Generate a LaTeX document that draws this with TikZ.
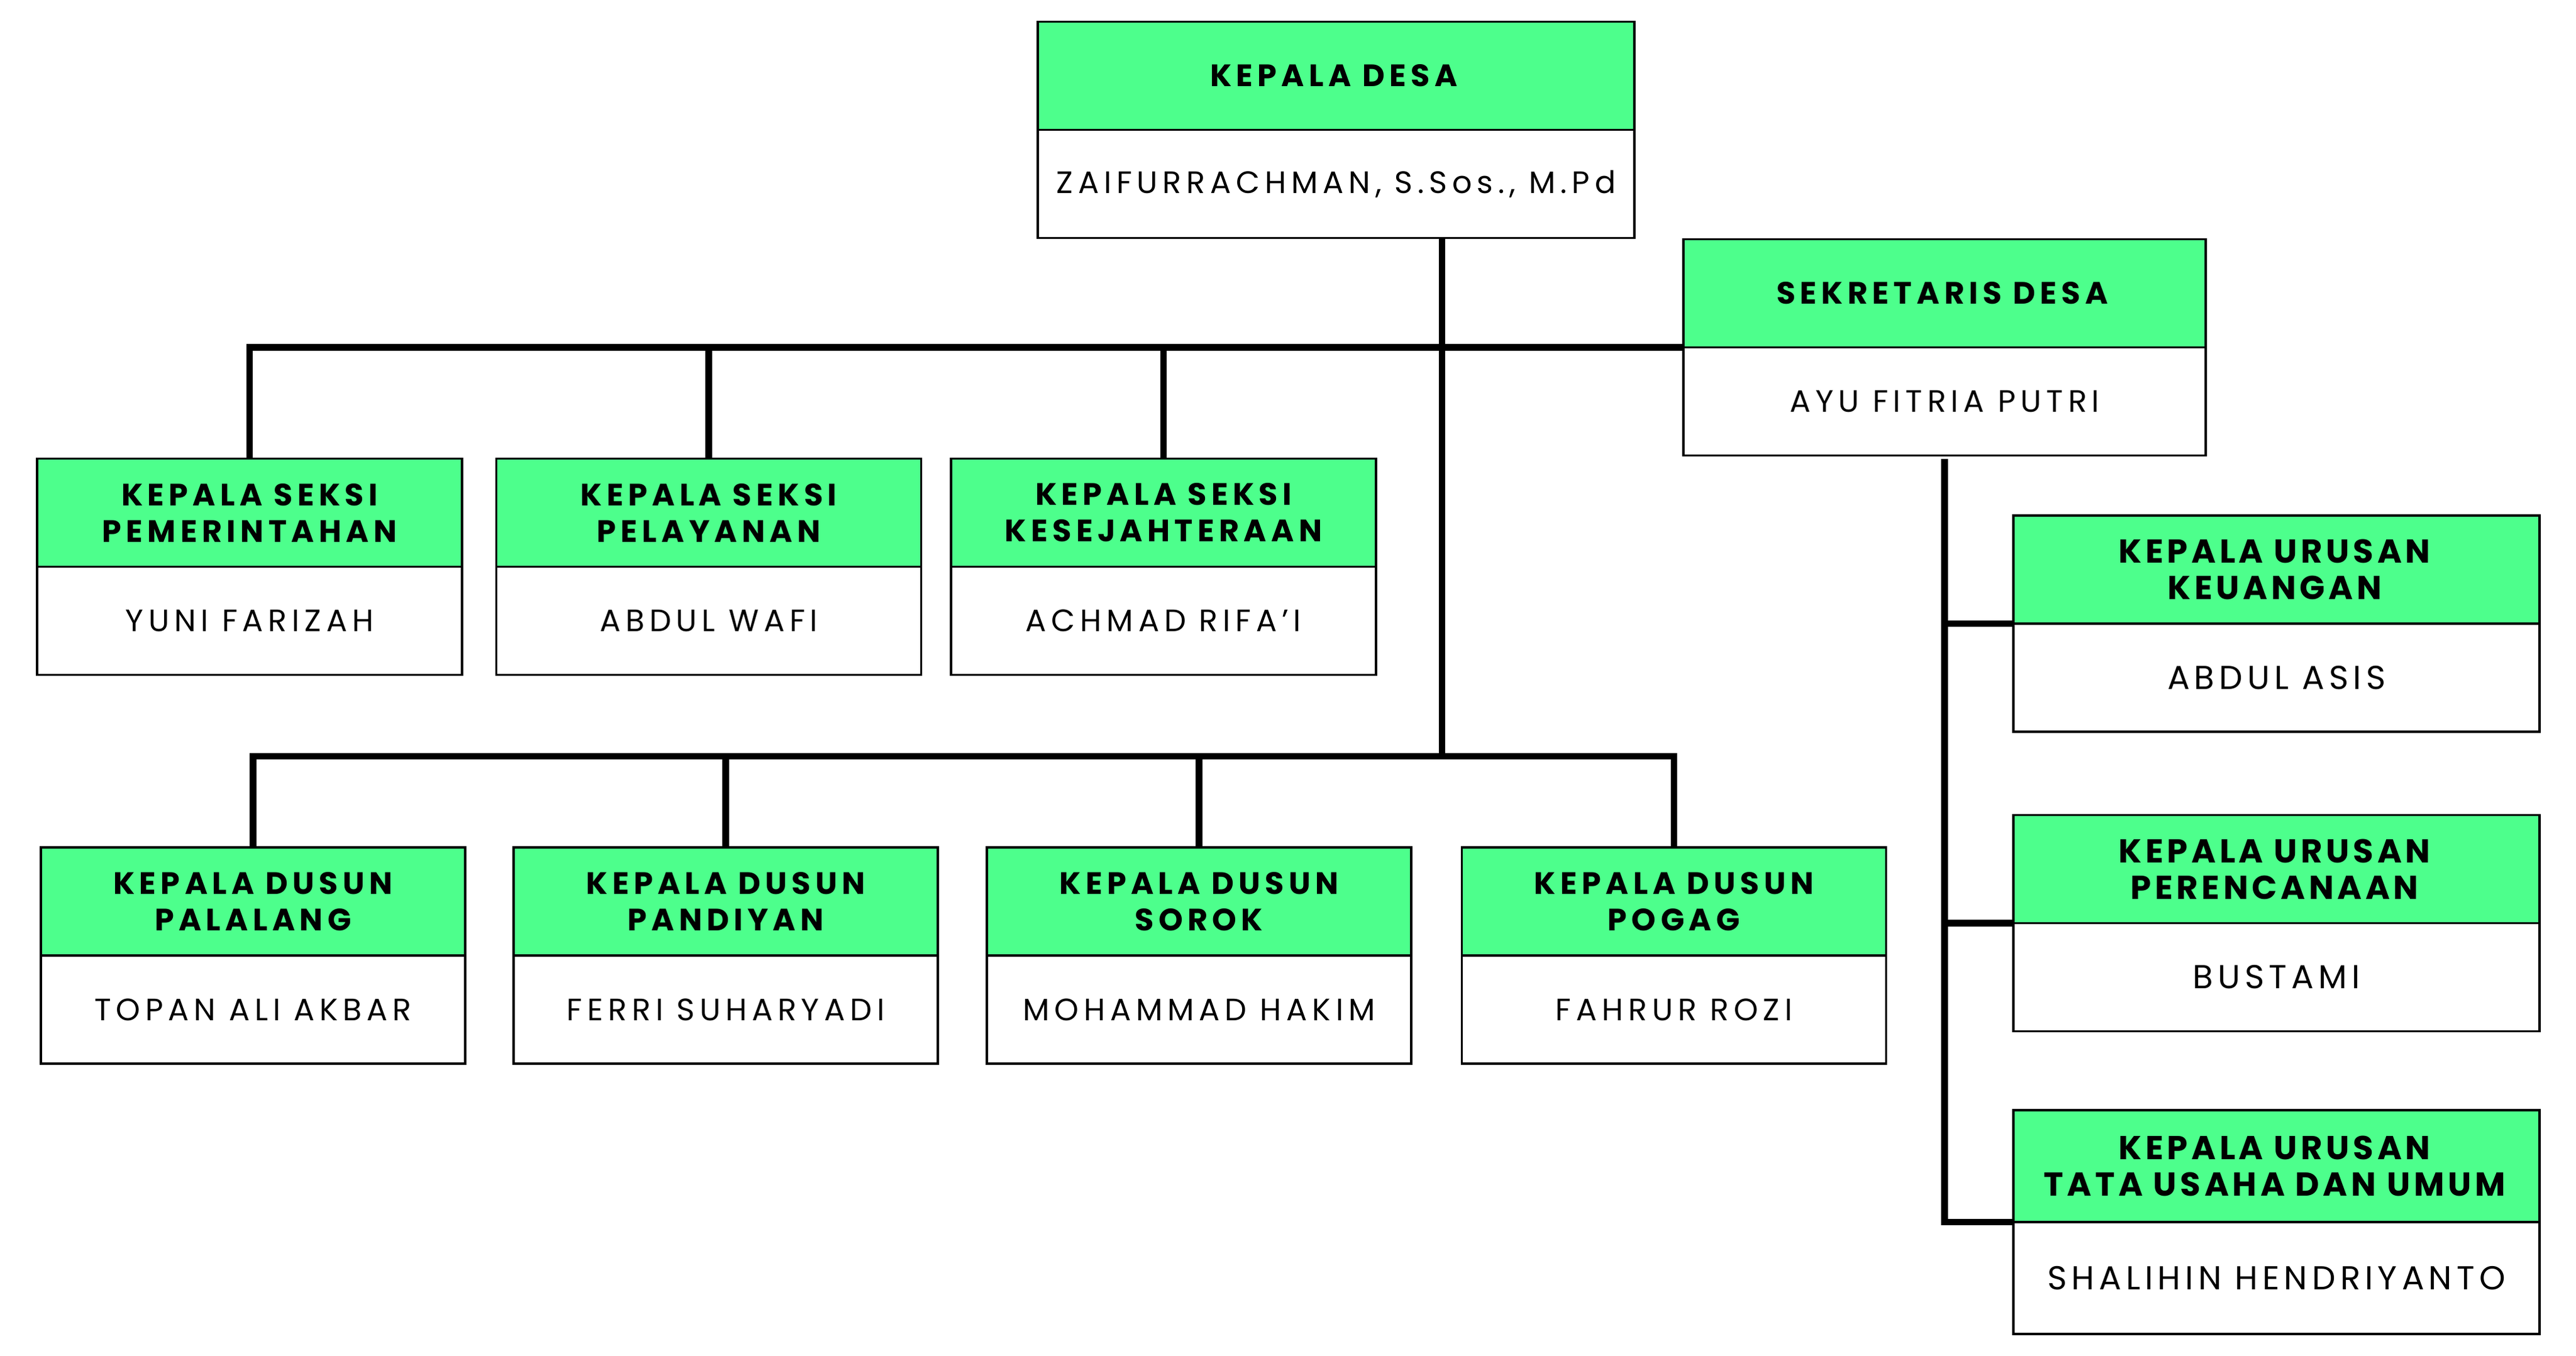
\documentclass[tikz,border=0pt]{standalone}
\usepackage{fontspec}
\setmainfont{Poppins}[LetterSpace=16, BoldFeatures={LetterSpace=15}]
\newfontfamily\lebar{Poppins}[LetterSpace=14, BoldFeatures={LetterSpace=11}]
\usetikzlibrary{positioning}
\definecolor{hijau}{RGB}{77,255,140}
% kotak jabatan: [opsi]{nama node}{x}{y}{lebar}{jabatan}{pejabat}
\newcommand{\kotak}[7][]{%
    \node [jab, #1, minimum width=#5cm] (#2H) at (#3,#4) {#6};
    \node [nama, #1, minimum width=#5cm, below=0pt of #2H] (#2) {#7};
}

\begin{document}
\begin{tikzpicture}[
        jab/.style={
            draw,
            fill=hijau,
            line width=0.9pt,
            outer sep=0pt,
            align=center,
            minimum height=1.72cm,
            font=\fontsize{14}{16.5}\selectfont\bfseries,
        },
        nama/.style={
            draw,
            fill=white,
            line width=0.9pt,
            outer sep=0pt,
            align=center,
            minimum height=1.72cm,
            font=\fontsize{14}{16.5}\selectfont,
        },
        urus/.style={
            font=\fontsize{15}{16.5}\selectfont\lebar,
        },
        garis/.style={
            line width=3pt,
        },
    ]
    \useasboundingbox (0,0) rectangle (40.98,-21.57);

    % Kepala desa dan sekretaris
    \kotak{desa}{21.255}{-1.205}{9.49}{\textbf{KEPALA DESA}}{ZAIFURRACHMAN, S.Sos., M.Pd}
    \kotak{sekdes}{30.935}{-4.665}{8.31}{\textbf{SEKRETARIS DESA}}{AYU FITRIA PUTRI}

    % Kepala seksi
    \kotak{seksiA}{3.97}{-8.155}{6.76}{KEPALA SEKSI\\PEMERINTAHAN}{YUNI FARIZAH}
    \kotak{seksiB}{11.275}{-8.155}{6.76}{KEPALA SEKSI\\PELAYANAN}{ABDUL WAFI}
    \kotak{seksiC}{18.51}{-8.155}{6.76}{KEPALA SEKSI\\KESEJAHTERAAN}{ACHMAD RIFA'I}

    % Kepala dusun
    \kotak{dusunA}{4.025}{-14.34}{6.75}{KEPALA DUSUN\\PALALANG}{TOPAN ALI AKBAR}
    \kotak{dusunB}{11.545}{-14.34}{6.75}{KEPALA DUSUN\\PANDIYAN}{FERRI SUHARYADI}
    \kotak{dusunC}{19.075}{-14.34}{6.75}{KEPALA DUSUN\\SOROK}{MOHAMMAD HAKIM}
    \kotak{dusunD}{26.63}{-14.34}{6.75}{KEPALA DUSUN\\POGAG}{FAHRUR ROZI}

    % Kepala urusan
    \kotak[urus]{urusanA}{36.215}{-9.06}{8.37}{\textbf{KEPALA URUSAN}\\\textbf{KEUANGAN}}{ABDUL ASIS}
    \kotak[urus]{urusanB}{36.215}{-13.825}{8.37}{\textbf{KEPALA URUSAN}\\\textbf{PERENCANAAN}}{BUSTAMI}
    \kotak[urus, minimum height=1.78cm]{urusanC}{36.215}{-18.55}{8.37}{\textbf{KEPALA URUSAN}\\\textbf{TATA USAHA DAN UMUM}}{SHALIHIN HENDRIYANTO}

    % Garis dari kepala desa
    \coordinate (pusat) at (22.94,-12.03);
    \draw [garis] (desa.south -| pusat) -- (pusat);

    % Garis ke seksi
    \draw [garis] (seksiAH.north) |- (sekdesH.south west);
    \draw [garis] (seksiBH.north) -- (seksiBH.north |- sekdesH.south);
    \draw [garis] (seksiCH.north) -- (seksiCH.north |- sekdesH.south);

    % Garis ke dusun
    \draw [garis] (dusunAH.north) |- (dusunDH.north |- pusat) -- (dusunDH.north);
    \draw [garis] (dusunBH.north) -- (dusunBH.north |- pusat);
    \draw [garis] (dusunCH.north) -- (dusunCH.north |- pusat);

    % Garis dari sekretaris ke urusan
    \draw [garis] (sekdes.south)++(0,-0.06) |- (urusanCH.south west);
    \draw [garis] (urusanAH.south west) -- (urusanAH.south west -| sekdes.south);
    \draw [garis] (urusanBH.south west) -- (urusanBH.south west -| sekdes.south);
\end{tikzpicture}
\end{document}
